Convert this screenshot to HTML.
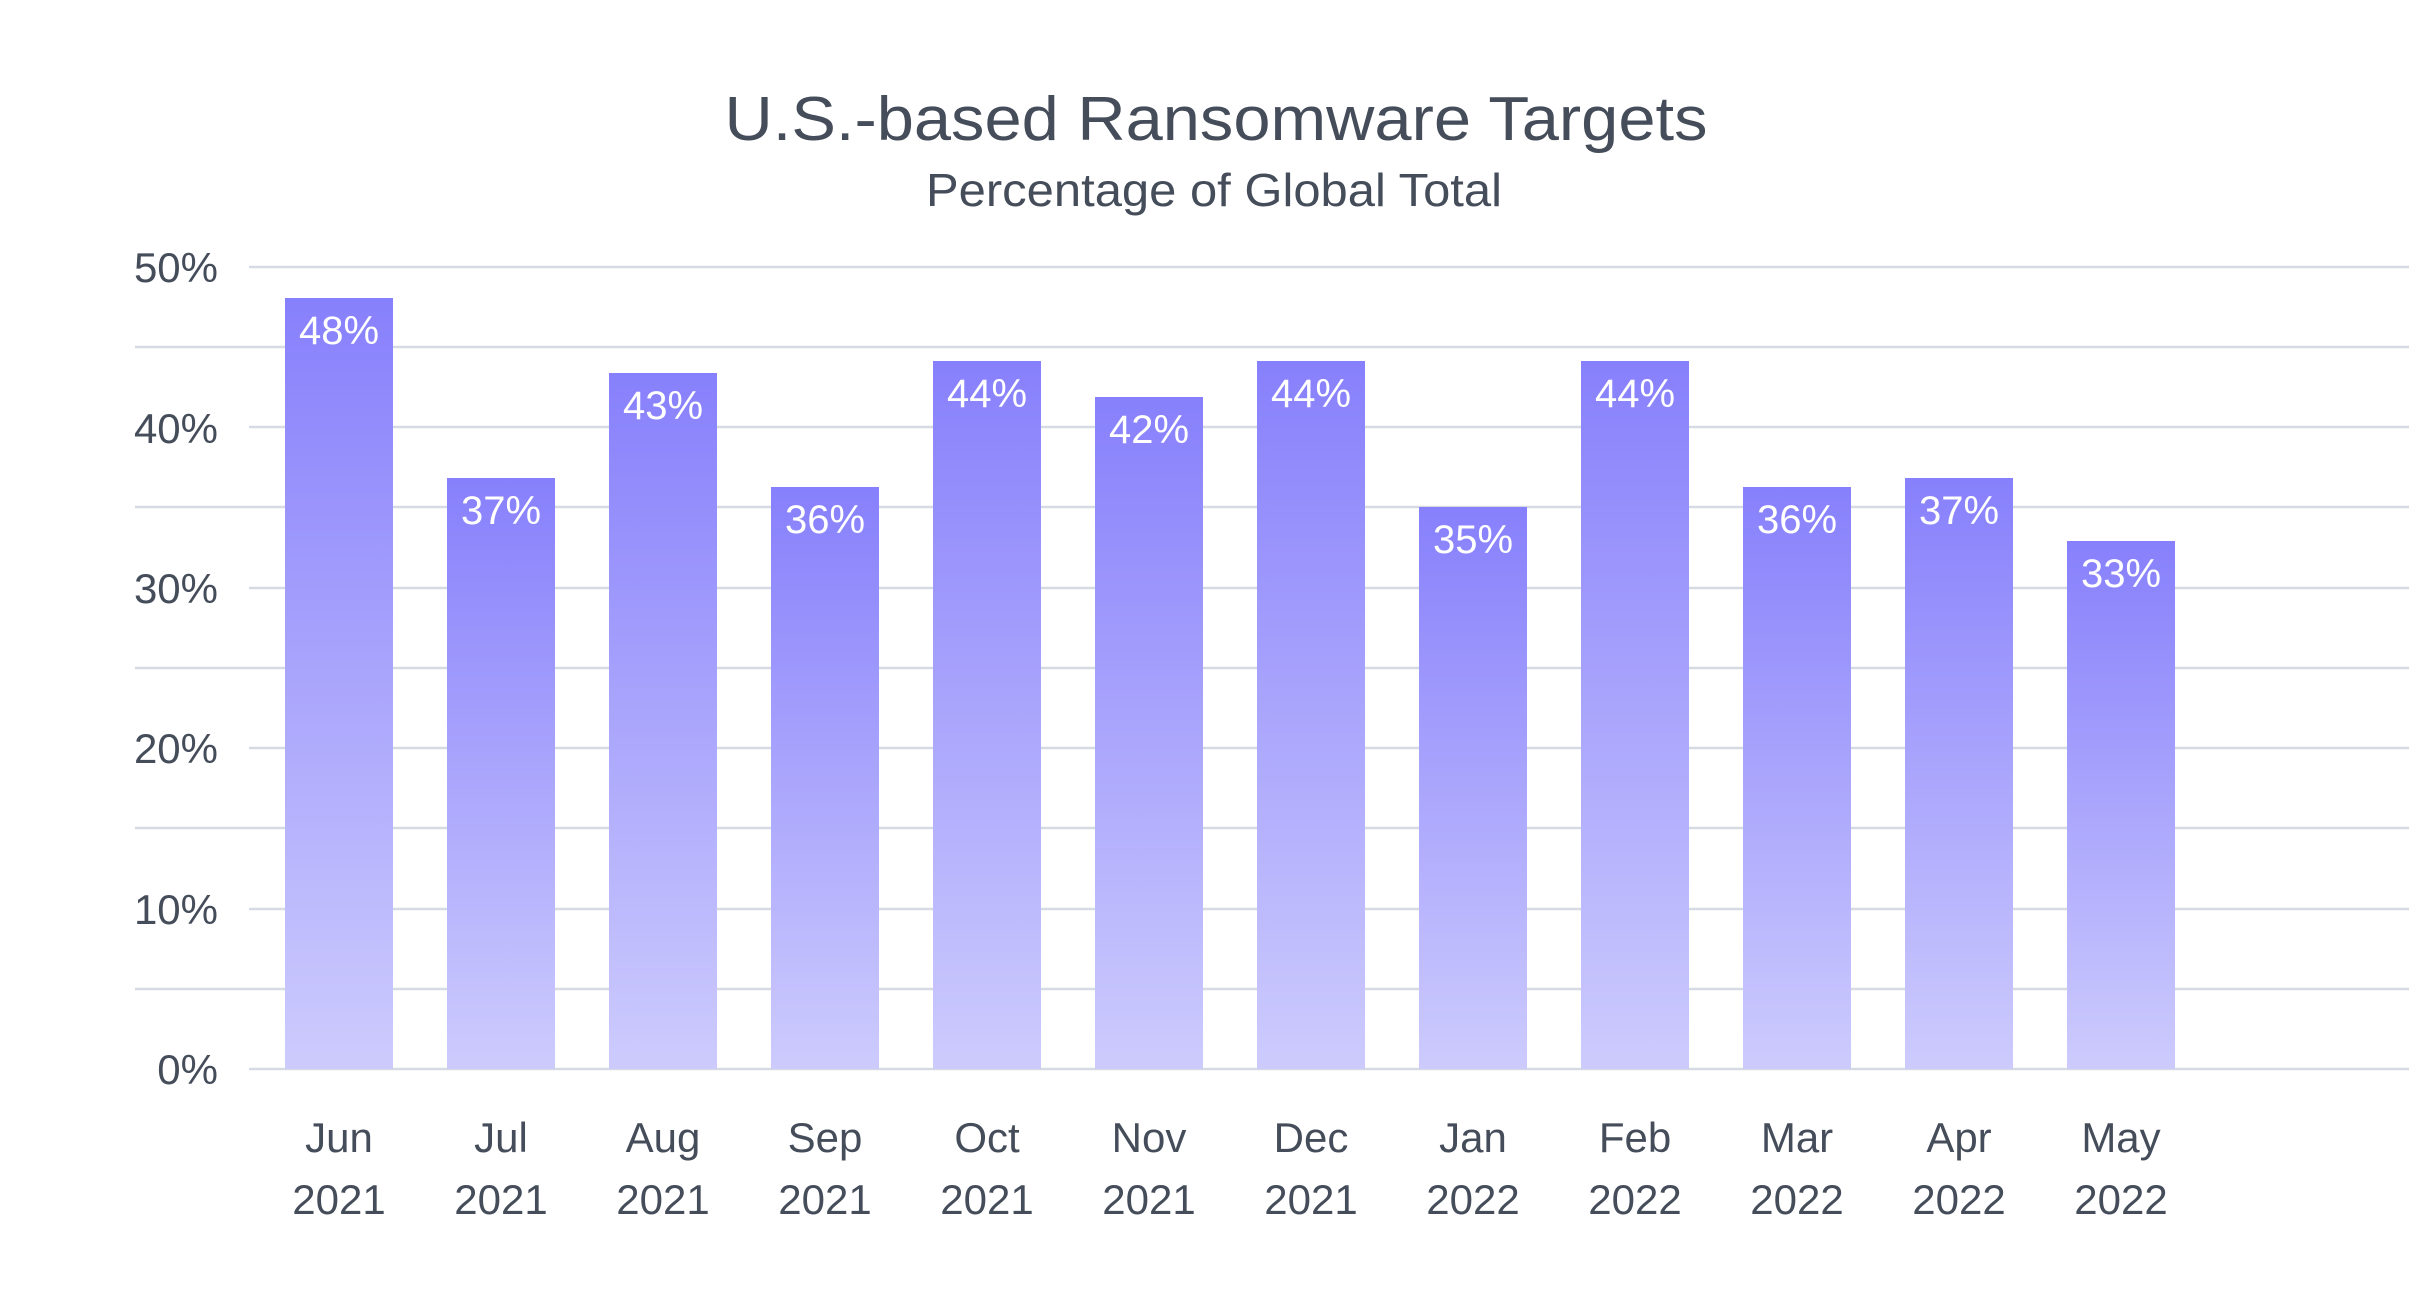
<!DOCTYPE html>
<html><head><meta charset="utf-8"><style>
html,body{margin:0;padding:0;background:#fff}
svg{display:block}
text{font-family:"Liberation Sans","DejaVu Sans",sans-serif;fill:#454d5a}
</style></head><body>
<svg width="2409" height="1302" viewBox="0 0 2409 1302" xmlns="http://www.w3.org/2000/svg">
<defs>
<linearGradient id="g" x1="0" y1="0" x2="0" y2="1">
<stop offset="0" stop-color="#8780fc"/>
<stop offset="1" stop-color="#cdcbfd"/>
</linearGradient>
</defs>
<text x="1216" y="140" font-size="62" text-anchor="middle" textLength="983" lengthAdjust="spacingAndGlyphs">U.S.-based Ransomware Targets</text>
<text x="1214" y="206" font-size="46" text-anchor="middle" textLength="576" lengthAdjust="spacingAndGlyphs">Percentage of Global Total</text>
<g stroke="#d6dae2" stroke-width="2.5">
<line x1="249" y1="267" x2="2409" y2="267"/>
<line x1="135" y1="347" x2="2409" y2="347"/>
<line x1="249" y1="427" x2="2409" y2="427"/>
<line x1="135" y1="507" x2="2409" y2="507"/>
<line x1="249" y1="588" x2="2409" y2="588"/>
<line x1="135" y1="668" x2="2409" y2="668"/>
<line x1="249" y1="748" x2="2409" y2="748"/>
<line x1="135" y1="828" x2="2409" y2="828"/>
<line x1="249" y1="909" x2="2409" y2="909"/>
<line x1="135" y1="989" x2="2409" y2="989"/>
<line x1="249" y1="1069" x2="2409" y2="1069"/>
</g>
<g font-size="42" text-anchor="end">
<text x="218" y="282">50%</text>
<text x="218" y="443">40%</text>
<text x="218" y="603">30%</text>
<text x="218" y="763">20%</text>
<text x="218" y="924">10%</text>
<text x="218" y="1084">0%</text>
</g>
<g fill="url(#g)">
<rect x="285" y="298" width="108" height="771"/>
<rect x="447" y="478" width="108" height="591"/>
<rect x="609" y="373" width="108" height="696"/>
<rect x="771" y="487" width="108" height="582"/>
<rect x="933" y="361" width="108" height="708"/>
<rect x="1095" y="397" width="108" height="672"/>
<rect x="1257" y="361" width="108" height="708"/>
<rect x="1419" y="507" width="108" height="562"/>
<rect x="1581" y="361" width="108" height="708"/>
<rect x="1743" y="487" width="108" height="582"/>
<rect x="1905" y="478" width="108" height="591"/>
<rect x="2067" y="541" width="108" height="528"/>
</g>
<g font-size="40" text-anchor="middle" style="fill:#fff">
<text x="339" y="344" style="fill:#fff">48%</text>
<text x="501" y="524" style="fill:#fff">37%</text>
<text x="663" y="419" style="fill:#fff">43%</text>
<text x="825" y="533" style="fill:#fff">36%</text>
<text x="987" y="407" style="fill:#fff">44%</text>
<text x="1149" y="443" style="fill:#fff">42%</text>
<text x="1311" y="407" style="fill:#fff">44%</text>
<text x="1473" y="553" style="fill:#fff">35%</text>
<text x="1635" y="407" style="fill:#fff">44%</text>
<text x="1797" y="533" style="fill:#fff">36%</text>
<text x="1959" y="524" style="fill:#fff">37%</text>
<text x="2121" y="587" style="fill:#fff">33%</text>
</g>
<g font-size="42" text-anchor="middle">
<text x="339" y="1152">Jun</text><text x="339" y="1214">2021</text>
<text x="501" y="1152">Jul</text><text x="501" y="1214">2021</text>
<text x="663" y="1152">Aug</text><text x="663" y="1214">2021</text>
<text x="825" y="1152">Sep</text><text x="825" y="1214">2021</text>
<text x="987" y="1152">Oct</text><text x="987" y="1214">2021</text>
<text x="1149" y="1152">Nov</text><text x="1149" y="1214">2021</text>
<text x="1311" y="1152">Dec</text><text x="1311" y="1214">2021</text>
<text x="1473" y="1152">Jan</text><text x="1473" y="1214">2022</text>
<text x="1635" y="1152">Feb</text><text x="1635" y="1214">2022</text>
<text x="1797" y="1152">Mar</text><text x="1797" y="1214">2022</text>
<text x="1959" y="1152">Apr</text><text x="1959" y="1214">2022</text>
<text x="2121" y="1152">May</text><text x="2121" y="1214">2022</text>
</g>
</svg>
</body></html>
